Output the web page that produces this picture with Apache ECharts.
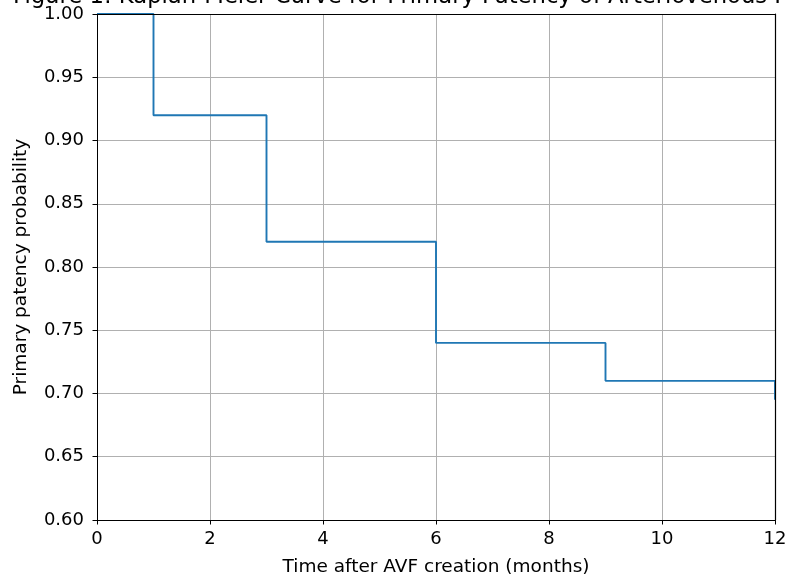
<!DOCTYPE html>
<html>
<head>
<meta charset="utf-8">
<script src="https://cdn.jsdelivr.net/npm/echarts@6/dist/echarts.min.js"></script>
<style>html,body{margin:0;padding:0;background:#fff}#c{width:787px;height:579px}</style>
</head>
<body>
<div id="c"></div>
<script>
const titleText = "Figure 1: Kaplan-Meier Curve for Primary Patency of Arteriovenous Fistulas";
const xLabel = "Time after AVF creation (months)";
const yLabel = "Primary patency probability";
const times = [0, 1, 3, 6, 9, 12];
const survival = [1.00, 0.92, 0.82, 0.74, 0.71, 0.695];
const xTicks = [0, 2, 4, 6, 8, 10, 12];
const yTicks = [0.60, 0.65, 0.70, 0.75, 0.80, 0.85, 0.90, 0.95, 1.00];

const FONT = "DejaVu Sans";
const chart = echarts.init(document.getElementById('c'), null, {renderer: 'canvas'});
const data = times.map((t, i) => [t, survival[i]]);
const axisCommon = {
  axisLine: {show: true, onZero: false, lineStyle: {color: '#000', width: 1}},
  axisTick: {show: true, length: 4.5, lineStyle: {color: '#000', width: 1}},
};
chart.setOption({
  animation: false,
  backgroundColor: '#fff',
  title: {
    text: titleText, left: 8, top: -19,
    textStyle: {fontFamily: FONT, fontSize: 22.7, fontWeight: 'normal', color: '#000'}
  },
  grid: {left: 97, right: 12, top: 14, bottom: 59, containLabel: false, outerBoundsMode: 'none'},
  xAxis: [{
    type: 'value', min: xTicks[0], max: xTicks[xTicks.length - 1], interval: 2,
    position: 'bottom',
    name: xLabel, nameLocation: 'middle', nameGap: 38,
    nameTextStyle: {fontFamily: FONT, fontSize: 18.5, color: '#000'},
    ...axisCommon,
    axisLabel: {fontFamily: FONT, fontSize: 18, color: '#000', margin: 10},
    splitLine: {show: true, showMinLine: false, showMaxLine: false, lineStyle: {color: '#b0b0b0', width: 1}}
  }, {
    type: 'value', min: xTicks[0], max: xTicks[xTicks.length - 1], position: 'top', z: 10,
    axisLine: {show: true, onZero: false, lineStyle: {color: '#000', width: 1.2}},
    axisTick: {show: false}, axisLabel: {show: false}, splitLine: {show: false}
  }],
  yAxis: [{
    type: 'value', min: yTicks[0], max: yTicks[yTicks.length - 1], interval: 0.05,
    position: 'left',
    name: yLabel, nameLocation: 'middle', nameGap: 66, nameRotate: 90,
    nameTextStyle: {fontFamily: FONT, fontSize: 18.5, color: '#000'},
    ...axisCommon,
    axisLabel: {fontFamily: FONT, fontSize: 18, color: '#000', margin: 13,
      formatter: v => v.toFixed(2)},
    splitLine: {show: true, showMinLine: false, showMaxLine: false, lineStyle: {color: '#b0b0b0', width: 1}}
  }, {
    type: 'value', min: yTicks[0], max: yTicks[yTicks.length - 1], position: 'right', z: 10,
    axisLine: {show: true, onZero: false, lineStyle: {color: '#000', width: 1.2}},
    axisTick: {show: false}, axisLabel: {show: false}, splitLine: {show: false}
  }],
  series: [{
    type: 'line', step: 'end', data: data, showSymbol: false, symbol: 'none',
    xAxisIndex: 0, yAxisIndex: 0, clip: false,
    lineStyle: {color: '#1f77b4', width: 1.9}, z: 2
  }]
});
</script>
</body>
</html>
